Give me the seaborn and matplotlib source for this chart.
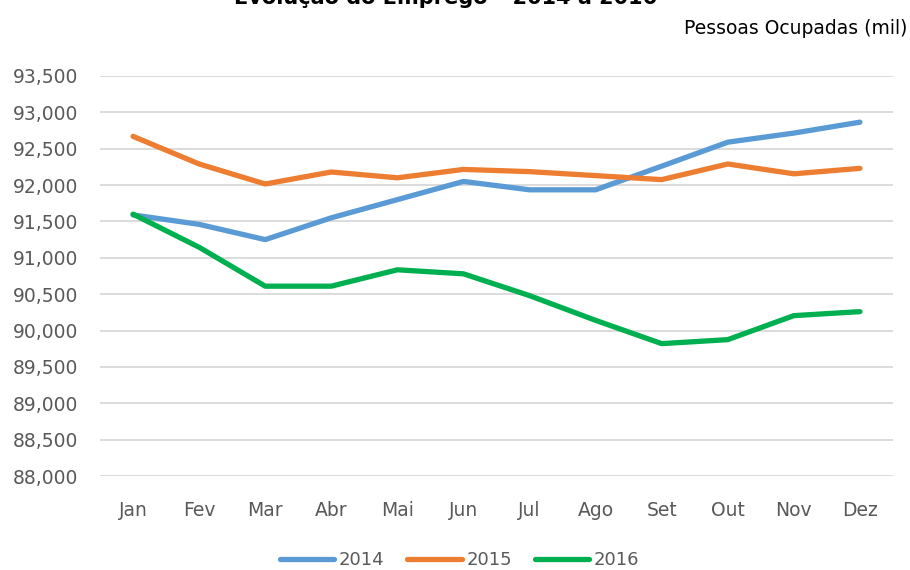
import pandas as pd
import matplotlib
matplotlib.use('Agg')
import matplotlib.pyplot as plt
import seaborn as sns
from matplotlib.ticker import FuncFormatter

# monthly values (thousand people)
months = ['Jan', 'Fev', 'Mar', 'Abr', 'Mai', 'Jun', 'Jul', 'Ago', 'Set', 'Out', 'Nov', 'Dez']
emp_2014 = [91590, 91460, 91250, 91550, 91800, 92050, 91935, 91935, 92260, 92590, 92715, 92865]
emp_2015 = [92670, 92290, 92015, 92180, 92100, 92215, 92185, 92130, 92075, 92290, 92155, 92230]
emp_2016 = [91600, 91145, 90610, 90610, 90835, 90780, 90480, 90140, 89820, 89875, 90205, 90260]
years = ['2014', '2015', '2016']
colors = ['#5B9BD5', '#ED7D31', '#00B050']
y_ticks = list(range(88000, 93501, 500))

df = pd.DataFrame({
    'mes': months * 3,
    'ano': [y for y in years for _ in months],
    'valor': emp_2014 + emp_2015 + emp_2016,
})

sns.set_theme(style='white')
plt.rcParams['font.family'] = ['DejaVu Sans']

fig = plt.figure(figsize=(9.1, 5.7), dpi=100)
ax = fig.add_axes([0.1099, 0.1649, 0.8714, 0.7018])

sns.lineplot(data=df, x='mes', y='valor', hue='ano', palette=colors,
             linewidth=3.8, ax=ax, sort=False, legend=True)
for line in ax.lines:
    line.set_solid_capstyle('round')

ax.set_xlim(-0.5, 11.5)
ax.set_ylim(88000, 93500)
ax.set_yticks(y_ticks)
ax.yaxis.set_major_formatter(FuncFormatter(lambda v, p: f'{int(v):,}'))
ax.grid(axis='y', color='#D9D9D9', linewidth=1.3)
ax.set_axisbelow(True)
for s in ax.spines.values():
    s.set_visible(False)
ax.tick_params(axis='both', length=0, labelsize=13.5, labelcolor='#595959')
ax.tick_params(axis='x', pad=18)
ax.tick_params(axis='y', pad=16)
ax.set_xlabel('')
ax.set_ylabel('')

# legend along the bottom
handles, labels = ax.get_legend_handles_labels()
ax.legend_.remove()
leg = fig.legend(handles, labels, loc='center', bbox_to_anchor=(0.505, 0.017), ncol=3,
                 frameon=False, handlelength=3.0, handletextpad=0.25, columnspacing=1.3,
                 fontsize=13)
for t in leg.get_texts():
    t.set_color('#595959')
for h in leg.get_lines():
    h.set_linewidth(3.8)
    h.set_solid_capstyle('round')

# title is cut off at the top edge in the reference
fig.text(0.49, 1 - 4 / 570, 'Evolução do Emprego – 2014 a 2016', ha='center', va='baseline',
         fontsize=15, fontweight='bold', color='#000000')
fig.text(0.997, 1 - 28 / 570, 'Pessoas Ocupadas (mil)', ha='right', va='center',
         fontsize=13.5, color='#000000')

fig.savefig('out.png', dpi=100)
